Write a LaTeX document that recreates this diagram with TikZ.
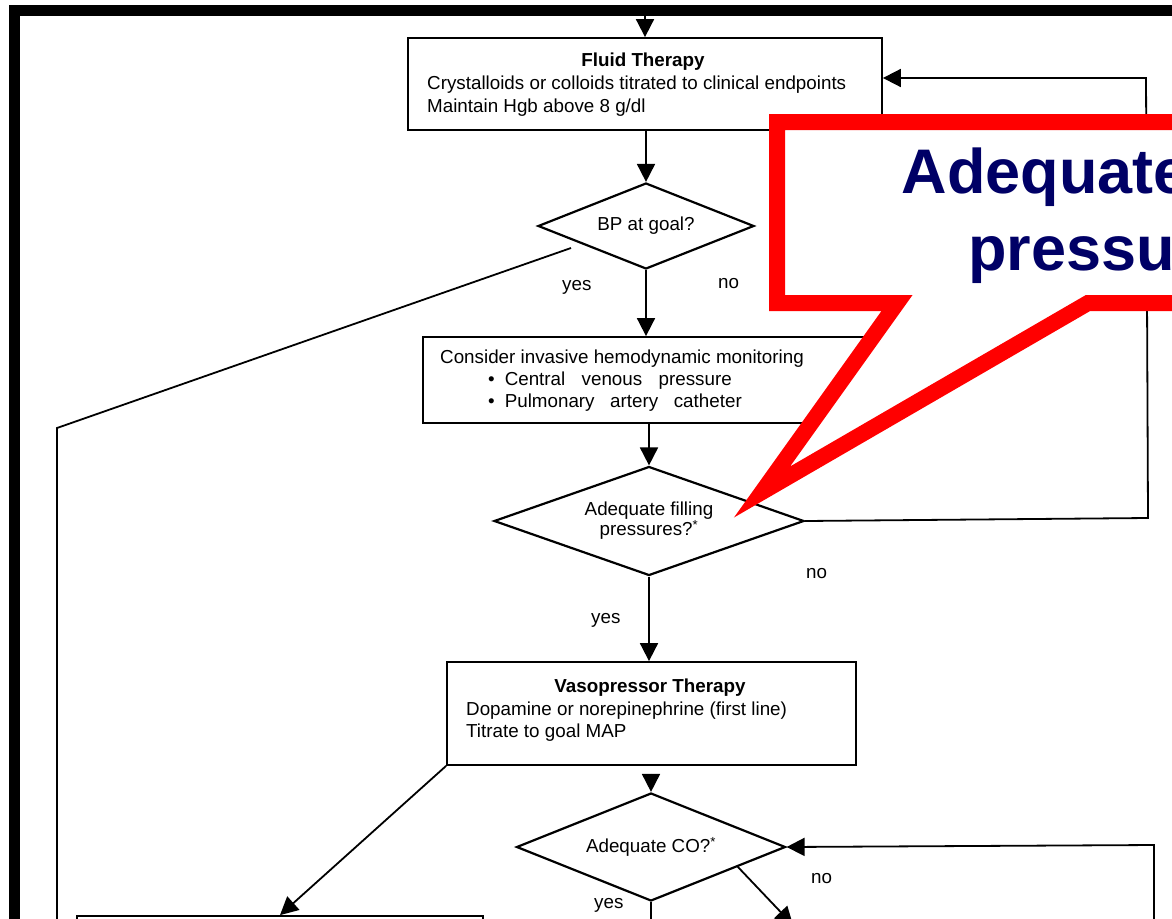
\documentclass[tikz,border=0pt]{standalone}
\usepackage{fontspec}
\setmainfont{Liberation Sans}
\usetikzlibrary{shapes.geometric,arrows.meta,calc}
\definecolor{calloutred}{RGB}{255,0,0}
\definecolor{navyblue}{RGB}{0,0,102}
\newcommand\ftxt{\fontsize{18.8}{20}\selectfont}
\begin{document}
\begin{tikzpicture}[x=1pt,y=-1pt,
  box/.style={draw, rectangle, line width=1.8pt, inner sep=0pt},
  dia/.style={draw, diamond, line width=2.2pt, inner sep=0pt, align=center, font=\ftxt},
  txt/.style={inner sep=0pt, font=\ftxt},
  lbl/.style={txt, anchor=base west},
  conn/.style={line width=1.8pt},
  arr/.style={conn, -{Triangle[length=18pt,width=18pt]}},
  callout/.style={draw=calloutred, fill=white, line width=16pt, line join=miter},
  bigtxt/.style={inner sep=0pt, anchor=base, text=navyblue, font=\fontsize{63}{75}\selectfont\bfseries}
]
\useasboundingbox (0,0) rectangle (1172,918);
\clip (0,0) rectangle (1172,918);
\fill[white] (0,0) rectangle (1172,918);

% thick frame
\draw[line width=11pt, line join=miter] (14,1000) -- (14,10.5) -- (1300,10.5);

% boxes
\node[box, minimum width=474pt, minimum height=92pt] (fluid) at (645,84) {};
\node[txt, anchor=base] (fluidT) at (643,66) {\bfseries Fluid Therapy};
\node[lbl] (fluidA) at (427,89) {Crystalloids or colloids titrated to clinical endpoints};
\node[lbl] (fluidB) at (427,112) {Maintain Hgb above 8 g/dl};

\node[dia, minimum width=216pt, minimum height=86pt, aspect=2.5] (bp) at (646,226) {BP at goal?};

\node[box, minimum width=450pt, minimum height=86pt] (mon) at (648,380) {};
\node[lbl] (monA) at (440,363) {Consider invasive hemodynamic monitoring};
\node[lbl] (monB) at (488,385) {\textbullet\hspace{10pt}\makebox[227pt][s]{Central\hfil venous\hfil pressure}};
\node[lbl] (monC) at (488,407) {\textbullet\hspace{10pt}\makebox[237pt][s]{Pulmonary\hfil artery\hfil catheter}};

\node[dia, minimum width=310pt, minimum height=109pt, aspect=2.84] (fill) at (649,521) {Adequate filling\\pressures?\textsuperscript{*}};

\node[box, minimum width=409pt, minimum height=103pt] (vaso) at (651.5,713.5) {};
\node[txt, anchor=base] (vasoT) at (650,692) {\bfseries Vasopressor Therapy};
\node[lbl] (vasoA) at (466,715) {Dopamine or norepinephrine (first line)};
\node[lbl] (vasoB) at (466,737) {Titrate to goal MAP};

\node[dia, minimum width=269pt, minimum height=108pt, aspect=2.5] (co) at (651,847) {Adequate CO?\textsuperscript{*}};

\node[box, minimum width=406pt, minimum height=100pt] (bl) at (280,966) {};

% labels
\node[lbl] (l1) at (562,290) {yes};
\node[lbl] (l2) at (718,288) {no};
\node[lbl] (l3) at (806,578) {no};
\node[lbl] (l4) at (591,623) {yes};
\node[lbl] (l5) at (811,883) {no};
\node[lbl] (l6) at (594,908) {yes};

% coordinates
\coordinate (topin) at (645,16);
\coordinate (bpl) at (571,248);
\coordinate (lc) at (57,428);
\coordinate (lb) at (57,940);
\coordinate (r1) at (1148,518);
\coordinate (r2) at (1146,78);
\coordinate (c1) at (1154,940);
\coordinate (c2) at (1154,845);
\coordinate (cod) at ($(co.east)!0.36!(co.south)$);
\coordinate (cod2) at (793,925);
\coordinate (cob) at (651,940);

% connectors
\draw[arr] (topin) -- (fluid.north);
\draw[arr] (bp.north |- fluid.south) -- (bp.north);
\draw[arr] (bp.south) -- (bp.south |- mon.north);
\draw[arr] (fill.north |- mon.south) -- (fill.north);
\draw[arr] (fill.south) -- (fill.south |- vaso.north);
\draw[arr, shorten <=8pt] (co.north |- vaso.south) -- (co.north);
\draw[conn] (bpl) -- (lc) -- (lb);
\draw[arr] (fill.east) -- (r1) -- (r2) -- (fluid.east |- r2);
\draw[arr] (vaso.south west) -- (bl.north);
\draw[arr] (c1) -- (c2) -- (co.east);
\draw[arr] (cod) -- (cod2);
\draw[conn] (co.south) -- (cob);

% callout
\draw[callout] (777,122) -- (1400,122) -- (1400,303) -- (1088,303) -- (762,492) -- (897,303) -- (777,303) -- cycle;
\node[bigtxt] (cA) at (1138,193) {Adequate filling};
\node[bigtxt] (cB) at (1138,270) {pressures?};
\end{tikzpicture}
\end{document}
